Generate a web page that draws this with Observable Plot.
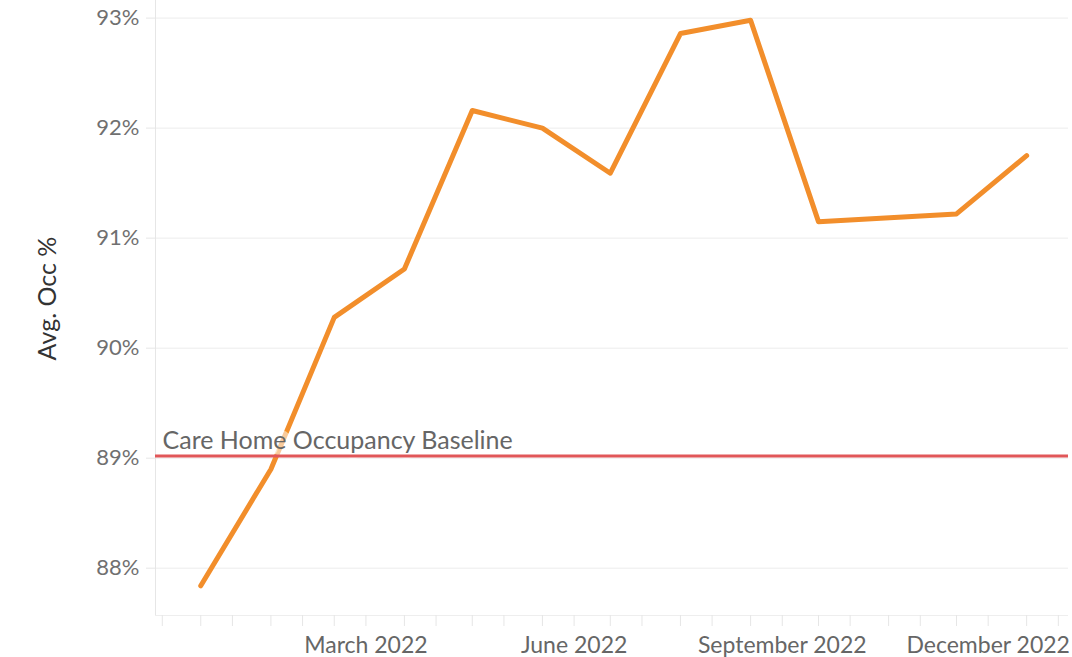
<!DOCTYPE html>
<html>
<head>
<meta charset="utf-8">
<script src="https://cdn.jsdelivr.net/npm/d3@7"></script>
<script src="https://cdn.jsdelivr.net/npm/@observablehq/plot@0.6"></script>
<style>
  html, body { margin: 0; padding: 0; background: #fff; }
  #chart svg { display: block; }
</style>
</head>
<body>
<div id="chart"></div>
<script>
// Data (monthly average occupancy, %)
const months = ["2022-01-01","2022-02-01","2022-03-01","2022-04-01","2022-05-01","2022-06-01",
                "2022-07-01","2022-08-01","2022-09-01","2022-10-01","2022-12-01","2023-01-01"];
const occupancy = [87.84, 88.90, 90.28, 90.72, 92.16, 92.00, 91.59, 92.86, 92.98, 91.15, 91.22, 91.75];
const baselineValue = 89.02;
const baselineLabel = "Care Home Occupancy Baseline";
const yTicks = [88, 89, 90, 91, 92, 93];
const xLabelDates = ["2022-03-15","2022-06-15","2022-09-15","2022-12-15"];
const xDomain = ["2021-12-12","2023-01-19T12:00"];
const yDomain = [87.57, 93.16];
const yTitle = "Avg. Occ %";

const data = months.map((m, i) => ({date: new Date(m), value: occupancy[i]}));
const xd = xDomain.map(d => new Date(d));
// tick marks at month starts and mid-months across the domain
const tickDates = [];
for (let d = d3.utcMonth.floor(xd[0]); d <= xd[1]; d = d3.utcMonth.offset(d, 1)) {
  if (d >= xd[0]) tickDates.push(d);
  const mid = d3.utcDay.offset(d, 14);
  if (mid >= xd[0] && mid <= xd[1]) tickDates.push(mid);
}

const font = "Lato, 'Open Sans', sans-serif";
const light = "#e6e6e6";

const chart = Plot.plot({
  width: 1072,
  height: 657,
  marginLeft: 155,
  marginRight: 4,
  marginTop: 0,
  marginBottom: 42,
  style: {fontFamily: font, background: "#fff"},
  x: {type: "utc", domain: xd},
  y: {domain: yDomain},
  marks: [
    Plot.gridY(yTicks, {stroke: "#ececec", strokeOpacity: 1}),
    Plot.ruleX([xd[0]], {stroke: light}),
    Plot.ruleY([yDomain[0]], {stroke: "#eeeeee"}),
    Plot.axisY(yTicks, {
      tickSize: 9, tickPadding: 7, stroke: light,
      tickFormat: d => d + "%", fontSize: 22, fill: "#707070",
      label: null
    }),
    Plot.text([yTitle], {
      frameAnchor: "left", rotate: -90, dx: -108, dy: -9.5,
      text: d => d, fontSize: 25, fill: "#333",
      textAnchor: "middle", lineAnchor: "middle"
    }),
    Plot.axisX(tickDates, {
      tickSize: 11, stroke: light, tickFormat: () => "", label: null
    }),
    Plot.axisX(xLabelDates.map(d => new Date(d)), {
      tickSize: 0, tickPadding: 21, tickFormat: d3.utcFormat("%B %Y"),
      fontSize: 23, fill: "#666", label: null
    }),
    Plot.line(data, {x: "date", y: "value", stroke: "#F28E2B", strokeWidth: 5,
      strokeLinejoin: "round", strokeLinecap: "round"}),
    Plot.text([baselineLabel], {
      x: () => xd[0], y: () => baselineValue, text: d => d,
      textAnchor: "start", lineAnchor: "bottom", dx: 7, dy: -7,
      fontSize: 25, fill: "#666",
      stroke: "white", strokeOpacity: 0.55, strokeWidth: 12, paintOrder: "stroke"
    }),
    Plot.ruleY([baselineValue], {stroke: "#E15759", strokeWidth: 3})
  ]
});
document.getElementById("chart").append(chart);
</script>
</body>
</html>
